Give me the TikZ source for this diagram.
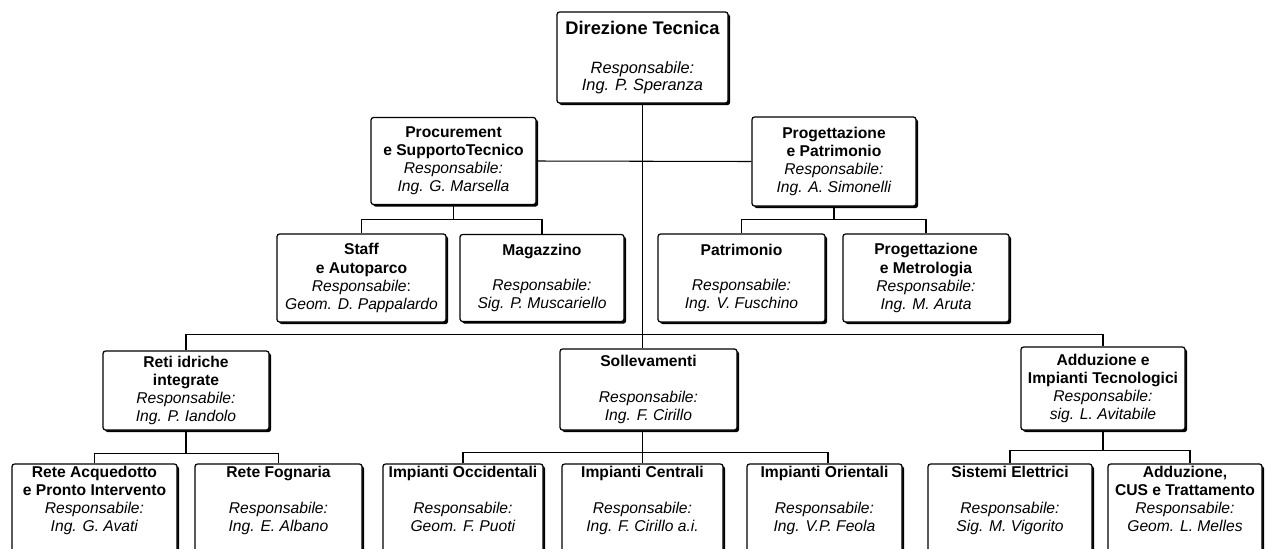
\documentclass[tikz,border=0pt]{standalone}
\usepackage{fontspec}
\setmainfont{Liberation Sans}
\usepackage{tikz}
\usetikzlibrary{shadows}

\newcommand{\resp}[1]{\textit{Responsabile:}\\\textit{#1}}

\begin{document}
\begin{tikzpicture}[
    unit/.style={draw, line width=0.7pt, rounded corners=1.5pt, fill=white, align=center, inner sep=0pt,
        drop shadow={shadow xshift=1.2pt, shadow yshift=-1.2pt, opacity=1, fill=black},
        font=\fontsize{8.9}{10.3}\selectfont},
    link/.style={line width=0.6pt}
]
    \useasboundingbox (0,0) rectangle (25.3,-10.96);
    \clip (0,0) rectangle (25.3,-10.96);

    \draw (12.85,-1.15) node (nodeDT) [unit, minimum width=3.42cm, minimum height=1.82cm, font=\fontsize{9.3}{9.3}\selectfont] {{\fontsize{10.4}{12}\selectfont\textbf{Direzione Tecnica}}\\[13pt]\resp{Ing. P. Speranza}};

    \draw (9.07,-3.22) node (nodeProc) [unit, minimum width=3.3cm, minimum height=1.74cm] {\textbf{Procurement}\\\textbf{e SupportoTecnico}\\\resp{Ing. G. Marsella}};
    \draw (16.68,-3.23) node (nodeProg) [unit, minimum width=3.28cm, minimum height=1.78cm] {\textbf{Progettazione}\\\textbf{e Patrimonio}\\\resp{Ing. A. Simonelli}};

    \draw (7.23,-5.56) node (nodeStaff) [unit, minimum width=3.38cm, minimum height=1.76cm] {\textbf{Staff}\\\textbf{e Autoparco}\\\textit{Responsabile}:\\\textit{Geom. D. Pappalardo}};
    \draw (10.84,-5.56) node (nodeMag) [unit, minimum width=3.28cm, minimum height=1.74cm] {\textbf{Magazzino}\\[10pt]\resp{Sig. P. Muscariello}};
    \draw (14.83,-5.56) node (nodePatr) [unit, minimum width=3.34cm, minimum height=1.76cm] {\textbf{Patrimonio}\\[10pt]\resp{Ing. V. Fuschino}};
    \draw (18.52,-5.56) node (nodePM) [unit, minimum width=3.32cm, minimum height=1.76cm] {\textbf{Progettazione}\\\textbf{e Metrologia}\\\resp{Ing. M. Aruta}};

    \draw (3.72,-7.81) node (nodeReti) [unit, minimum width=3.32cm, minimum height=1.58cm] {\textbf{Reti idriche}\\\textbf{integrate}\\\resp{Ing. P. Iandolo}};
    \draw (12.97,-7.79) node (nodeSoll) [unit, minimum width=3.54cm, minimum height=1.62cm] {\textbf{Sollevamenti}\\[10pt]\resp{Ing. F. Cirillo}};
    \draw (22.06,-7.77) node (nodeAddI) [unit, minimum width=3.28cm, minimum height=1.66cm] {\textbf{Adduzione e}\\\textbf{Impianti Tecnologici}\\\resp{sig. L. Avitabile}};

    \draw (1.89,-10.16) node (nodeAcq) [unit, minimum width=3.3cm, minimum height=1.76cm] {\textbf{Rete Acquedotto}\\\textbf{e Pronto Intervento}\\\resp{Ing. G. Avati}\\\mbox{}};
    \draw (5.57,-10.16) node (nodeFog) [unit, minimum width=3.34cm, minimum height=1.76cm] {\textbf{Rete Fognaria}\\[10pt]\resp{Ing. E. Albano}\\\mbox{}};
    \draw (9.26,-10.16) node (nodeOcc) [unit, minimum width=3.2cm, minimum height=1.76cm] {\textbf{Impianti Occidentali}\\[10pt]\resp{Geom. F. Puoti}\\\mbox{}};
    \draw (12.85,-10.16) node (nodeCen) [unit, minimum width=3.22cm, minimum height=1.76cm] {\textbf{Impianti Centrali}\\[10pt]\resp{Ing. F. Cirillo a.i.}\\\mbox{}};
    \draw (16.49,-10.16) node (nodeOri) [unit, minimum width=3.1cm, minimum height=1.76cm] {\textbf{Impianti Orientali}\\[10pt]\resp{Ing. V.P. Feola}\\\mbox{}};
    \draw (20.2,-10.16) node (nodeSis) [unit, minimum width=3.28cm, minimum height=1.76cm] {\textbf{Sistemi Elettrici}\\[10pt]\resp{Sig. M. Vigorito}\\\mbox{}};
    \draw (23.7,-10.16) node (nodeCUS) [unit, minimum width=3.08cm, minimum height=1.76cm] {\textbf{Adduzione,}\\\textbf{CUS e Trattamento}\\\resp{Geom. L. Melles}\\\mbox{}};

    \draw [link] (nodeDT.south) -- (nodeDT.south |- nodeSoll.north);
    \draw [link] (nodeProc.east) -- (nodeProg.west);
    \draw [link] (nodeReti.north) -- ++(0,0.32) -| (nodeAddI.north);

    \draw [link] (nodeProc.south) -- ++(0,-0.28) coordinate (jProc);
    \draw [link] (nodeStaff.north) |- (jProc) -| (nodeMag.north);
    \draw [link] (nodeProg.south) -- ++(0,-0.26) coordinate (jProg);
    \draw [link] (nodePatr.north) |- (jProg) -| (nodePM.north);

    \draw [link] (nodeReti.south) -- ++(0,-0.46) coordinate (jReti);
    \draw [link] (nodeAcq.north) |- (jReti) -| (nodeFog.north);
    \draw [link] (nodeSoll.south -| nodeCen.north) -- ++(0,-0.44) coordinate (jSoll) -- (nodeCen.north);
    \draw [link] (nodeOcc.north) |- (jSoll) -| ([xshift=0.07cm]nodeOri.north);
    \draw [link] (nodeAddI.south) -- ++(0,-0.4) coordinate (jAddI);
    \draw [link] (nodeSis.north) |- (jAddI) -| ([xshift=0.1cm]nodeCUS.north);
\end{tikzpicture}
\end{document}
